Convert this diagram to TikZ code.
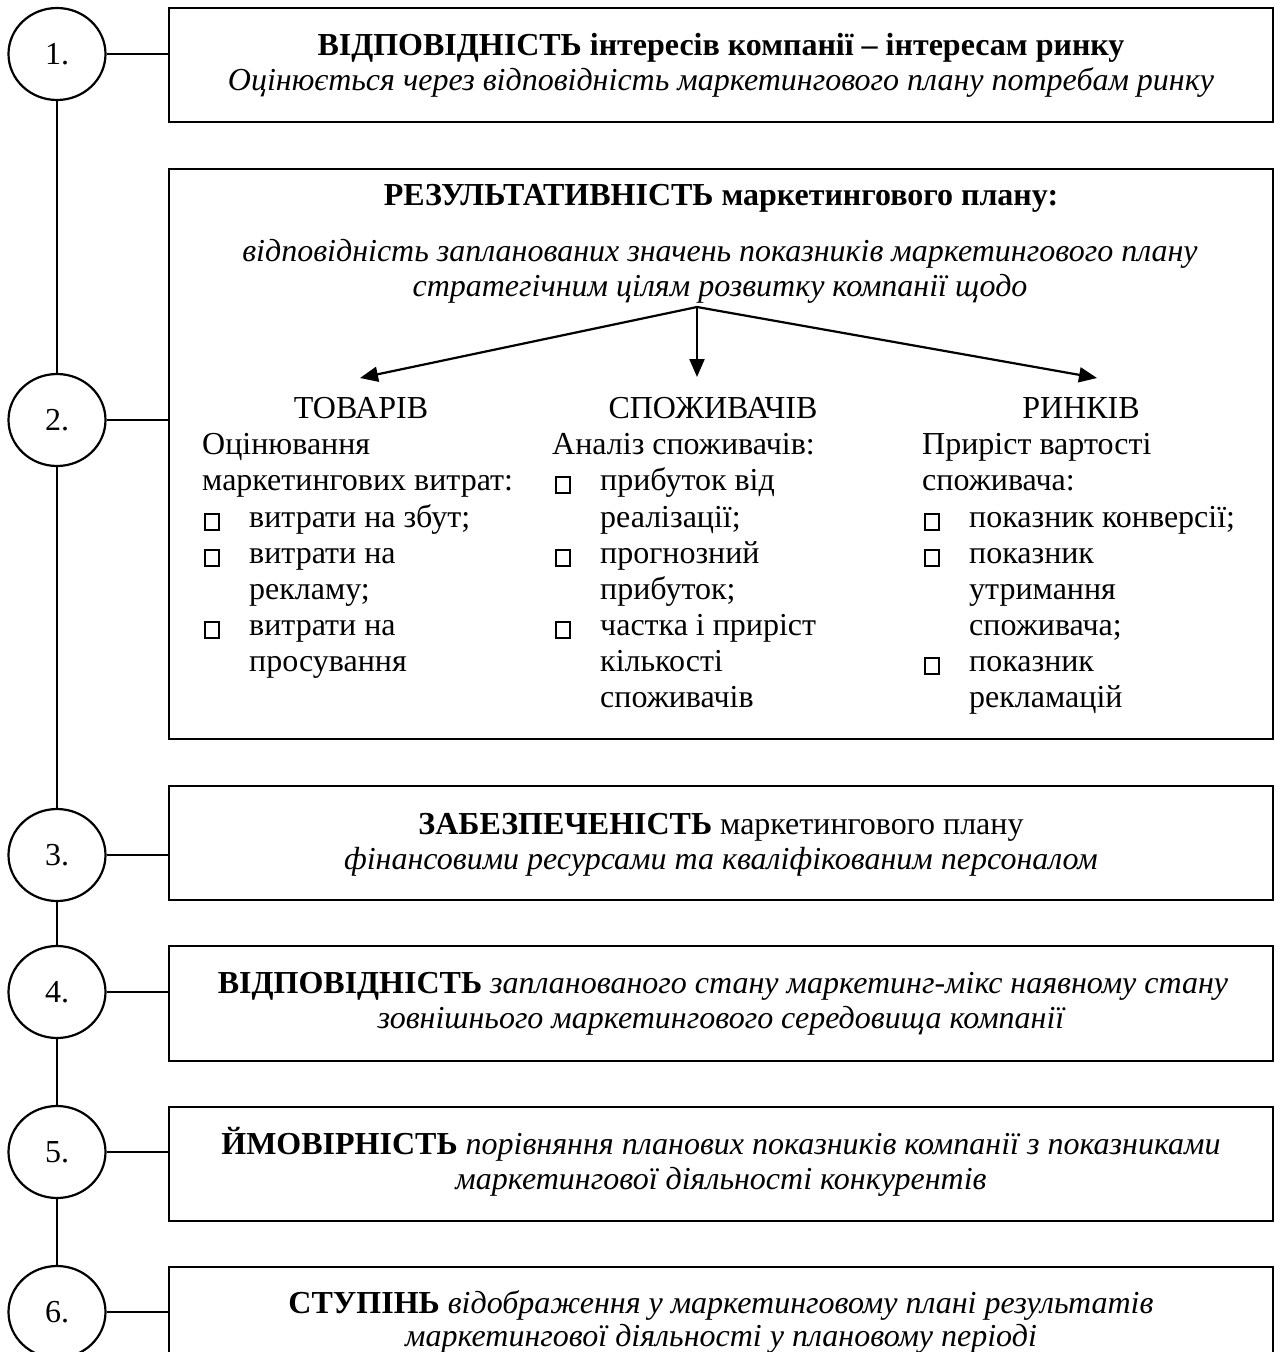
\documentclass[tikz,border=0pt]{standalone}
\usepackage{fontspec}
\setmainfont{Liberation Serif}
\usetikzlibrary{shapes.geometric,arrows.meta}
\begin{document}
\begin{tikzpicture}[x=1pt,y=-1pt,
  every node/.style={font=\fontsize{32}{36}\selectfont},
  circ/.style={draw,ellipse,line width=2.2pt,minimum width=97pt,minimum height=92pt,inner sep=0pt},
  box/.style={draw,rectangle,line width=2.2pt,inner sep=0pt,minimum width=1104pt},
  ln/.style={line width=2.2pt},
  cl/.style={anchor=base,inner sep=0pt},
  ll/.style={anchor=base west,inner sep=0pt},
  bul/.style={draw,rectangle,line width=1.8pt,minimum width=14pt,minimum height=16pt,inner sep=0pt,anchor=south west},
  arr/.style={line width=2.2pt,-{Triangle[length=18pt,width=15pt]}}
]
\useasboundingbox (0,0) rectangle (1277,1352);
\clip (0,0) rectangle (1277,1352);
\fill[white] (0,0) rectangle (1277,1352);

% circles
\node[circ] (c1) at (57,54) {1.};
\node[circ] (c2) at (57,420) {2.};
\node[circ] (c3) at (57,855) {3.};
\node[circ] (c4) at (57,992) {4.};
\node[circ] (c5) at (57,1152) {5.};
\node[circ] (c6) at (57,1312) {6.};

% boxes
\node[box,minimum height=114pt] (b1) at (721,65) {};
\node[box,minimum height=570pt] (b2) at (721,454) {};
\node[box,minimum height=114pt] (b3) at (721,843) {};
\node[box,minimum height=115pt] (b4) at (721,1003.5) {};
\node[box,minimum height=114pt] (b5) at (721,1164) {};
\node[box,minimum height=153pt] (b6) at (721,1343.5) {};

% connectors
\draw[ln] (c1.east) -- (c1.east -| b1.west);
\draw[ln] (c2.east) -- (c2.east -| b2.west);
\draw[ln] (c3.east) -- (c3.east -| b3.west);
\draw[ln] (c4.east) -- (c4.east -| b4.west);
\draw[ln] (c5.east) -- (c5.east -| b5.west);
\draw[ln] (c6.east) -- (c6.east -| b6.west);
\draw[ln] (c1.south) -- (c2.north);
\draw[ln] (c2.south) -- (c3.north);
\draw[ln] (c3.south) -- (c4.north);
\draw[ln] (c4.south) -- (c5.north);
\draw[ln] (c5.south) -- (c6.north);

% box 1
\node[cl] (t1a) at (721,55) {\bfseries ВІДПОВІДНІСТЬ інтересів компанії – інтересам ринку};
\node[cl] (t1b) at (721,90) {\itshape Оцінюється через відповідність маркетингового плану потребам ринку};

% box 2
\node[cl] (t2a) at (721,205) {\bfseries РЕЗУЛЬТАТИВНІСТЬ маркетингового плану:};
\node[cl] (t2b) at (720,261) {\itshape відповідність запланованих значень показників маркетингового плану};
\node[cl] (t2c) at (720,296) {\itshape стратегічним цілям розвитку компанії щодо};

\coordinate (hub) at (697,307);
\coordinate (aL) at (360,378);
\coordinate (aM) at (697,377);
\coordinate (aR) at (1097,378);
\draw[arr] (hub) -- (aL);
\draw[arr] (hub) -- (aM);
\draw[arr] (hub) -- (aR);

% column 1
\node[cl] (h1) at (361,418) {ТОВАРІВ};
\node[ll] (p1a) at (202,454) {Оцінювання};
\node[ll] (p1b) at (202,490) {маркетингових витрат:};
\node[bul] (q1a) at (204,531) {};
\node[ll] (p1c) at (249,527) {витрати на збут;};
\node[bul] (q1b) at (204,567) {};
\node[ll] (p1d) at (249,563) {витрати на};
\node[ll] (p1e) at (249,599) {рекламу;};
\node[bul] (q1c) at (204,639) {};
\node[ll] (p1f) at (249,635) {витрати на};
\node[ll] (p1g) at (249,671) {просування};

% column 2
\node[cl] (h2) at (713,418) {СПОЖИВАЧІВ};
\node[ll] (p2a) at (552,454) {Аналіз споживачів:};
\node[bul] (q2a) at (555,494) {};
\node[ll] (p2b) at (600,490) {прибуток від};
\node[ll] (p2c) at (600,527) {реалізації;};
\node[bul] (q2b) at (555,567) {};
\node[ll] (p2d) at (600,563) {прогнозний};
\node[ll] (p2e) at (600,599) {прибуток;};
\node[bul] (q2c) at (555,639) {};
\node[ll] (p2f) at (600,635) {частка і приріст};
\node[ll] (p2g) at (600,671) {кількості};
\node[ll] (p2h) at (600,707) {споживачів};

% column 3
\node[cl] (h3) at (1081,418) {РИНКІВ};
\node[ll] (p3a) at (922,454) {Приріст вартості};
\node[ll] (p3b) at (922,490) {споживача:};
\node[bul] (q3a) at (924,531) {};
\node[ll] (p3c) at (969,527) {показник конверсії;};
\node[bul] (q3b) at (924,567) {};
\node[ll] (p3d) at (969,563) {показник};
\node[ll] (p3e) at (969,599) {утримання};
\node[ll] (p3f) at (969,635) {споживача;};
\node[bul] (q3c) at (924,675) {};
\node[ll] (p3g) at (969,671) {показник};
\node[ll] (p3h) at (969,707) {рекламацій};

% box 3
\node[cl] (t3a) at (721,834) {\textbf{ЗАБЕЗПЕЧЕНІСТЬ} маркетингового плану};
\node[cl] (t3b) at (721,869) {\itshape фінансовими ресурсами та кваліфікованим персоналом};

% box 4
\node[cl] (t4a) at (723,993) {\textbf{ВІДПОВІДНІСТЬ} \textit{запланованого стану маркетинг-мікс наявному стану}};
\node[cl] (t4b) at (721,1028) {\itshape зовнішнього маркетингового середовища компанії};

% box 5
\node[cl] (t5a) at (721,1154) {\textbf{ЙМОВІРНІСТЬ} \textit{порівняння планових показників компанії з показниками}};
\node[cl] (t5b) at (721,1189) {\itshape маркетингової діяльності конкурентів};

% box 6
\node[cl] (t6a) at (721,1313) {\textbf{СТУПІНЬ} \textit{відображення у маркетинговому плані результатів}};
\node[cl] (t6b) at (721,1346) {\itshape маркетингової діяльності у плановому періоді};
\end{tikzpicture}
\end{document}
